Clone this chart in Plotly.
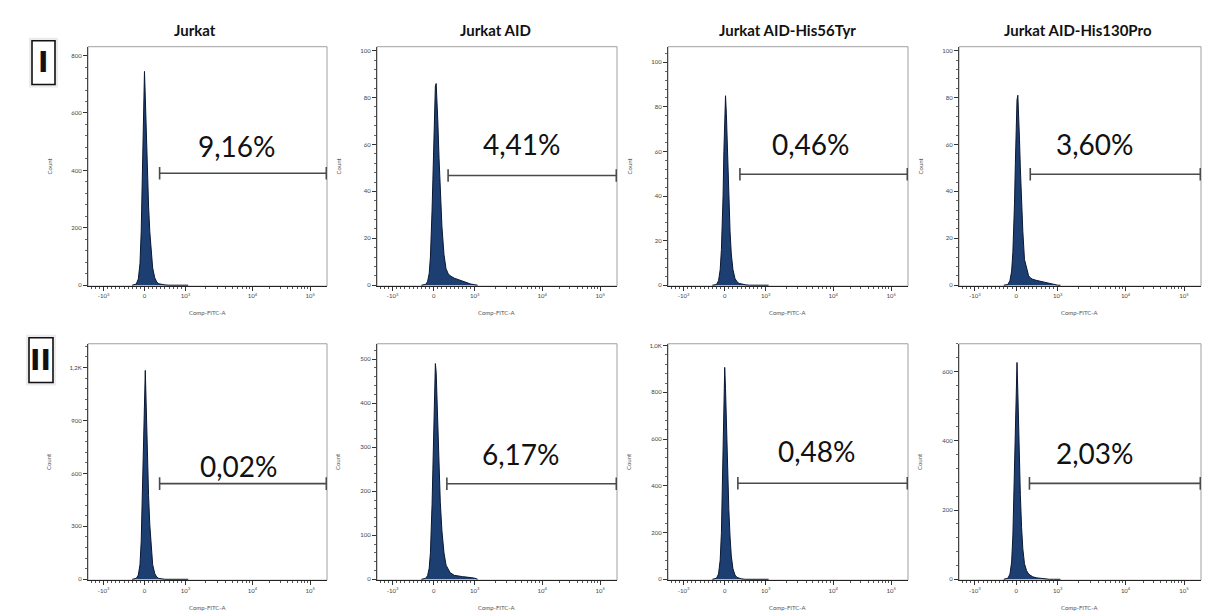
import numpy as np
import plotly.graph_objects as go

# ---------------- data ----------------
CELL_LINES = ["Jurkat", "Jurkat AID", "Jurkat AID-His56Tyr", "Jurkat AID-His130Pro"]
ROW_LABELS = ["I", "II"]

# FITC bin centres (fluorescence units)
FITC_BINS = [-300, -200, -150, -110, -80, -60, -40, -20, 0, 20, 40, 60, 80, 100, 130,
             160, 200, 250, 300, 350, 400, 500, 600, 700, 800, 900, 1000, 1100]

COUNTS_I_JURKAT = [0, 4, 22, 75, 186, 335, 484, 633, 745, 656, 536, 432, 350, 276, 186,
                   119, 60, 26, 11, 5, 3, 1, 0, 0, 0, 0, 0, 0]
COUNTS_I_AID = [0, 0.3, 1.5, 5, 12, 20, 32, 45, 62, 77, 85, 86, 80, 70, 54,
                40, 25, 13, 7, 5, 4, 3, 2.3, 1.6, 1, 0.5, 0.2, 0]
COUNTS_I_H56Y = [0, 0.3, 2, 7, 16, 26, 40, 60, 80, 85, 77, 64, 50, 38, 24,
                 14, 7, 3, 1.5, 0.8, 0.5, 0.2, 0, 0, 0, 0, 0, 0]
COUNTS_I_H130P = [0, 0.3, 2, 6, 14, 23, 35, 52, 68, 79, 81, 74, 62, 50, 35,
                  23, 11, 7, 4, 3, 2.5, 2, 1.6, 1.2, 0.8, 0.3, 0, 0]

COUNTS_II_JURKAT = [0, 5, 24, 83, 213, 391, 616, 852, 1066, 1184, 1006, 805, 628, 474, 308,
                    178, 83, 33, 12, 5, 2, 0, 0, 0, 0, 0, 0, 0]
COUNTS_II_AID = [0, 2, 8, 25, 60, 105, 170, 250, 350, 450, 490, 470, 410, 340, 250,
                 175, 110, 60, 32, 22, 15, 9, 7, 6, 5, 4, 2.5, 0]
COUNTS_II_H56Y = [0, 4, 23, 82, 200, 363, 544, 744, 907, 816, 671, 526, 408, 299, 181,
                  100, 45, 18, 8, 4, 2, 0, 0, 0, 0, 0, 0, 0]
COUNTS_II_H130P = [0, 3, 15, 50, 125, 225, 345, 490, 610, 626, 540, 430, 330, 245, 150,
                   88, 45, 25, 15, 10, 7, 4, 2, 0.5, 0, 0, 0, 0]

COUNTS = [[COUNTS_I_JURKAT, COUNTS_I_AID, COUNTS_I_H56Y, COUNTS_I_H130P],
          [COUNTS_II_JURKAT, COUNTS_II_AID, COUNTS_II_H56Y, COUNTS_II_H130P]]

PERCENT_LABELS = [["9,16%", "4,41%", "0,46%", "3,60%"],
                  ["0,02%", "6,17%", "0,48%", "2,03%"]]

GATE_LOW = [[370, 350, 370, 340], [370, 320, 320, 320]]
GATE_HIGH = 190000
GATE_COUNT = [[390, 46.8, 49.8, 47.3], [542, 217, 411, 277]]

X_TICK_VALUES = [-1000, 0, 1000, 10000, 100000]
X_TICK_TEXT = ["-10<sup>3</sup>", "0", "10<sup>3</sup>", "10<sup>4</sup>", "10<sup>5</sup>"]
X_MINOR_VALUES = ([-1300, -1200, -1100] + list(range(-900, 0, 100)) + list(range(100, 1000, 100))
                  + list(range(2000, 10000, 1000)) + list(range(20000, 100000, 10000)) + [200000])

Y_TICKS = [[[0, 200, 400, 600, 800], [0, 20, 40, 60, 80, 100], [0, 20, 40, 60, 80, 100], [0, 20, 40, 60, 80, 100]],
           [[0, 300, 600, 900, 1200], [0, 100, 200, 300, 400, 500], [0, 200, 400, 600, 800, 1000], [0, 200, 400, 600]]]
Y_TICK_TEXT = [[["0", "200", "400", "600", "800"], ["0", "20", "40", "60", "80", "100"],
                ["0", "20", "40", "60", "80", "100"], ["0", "20", "40", "60", "80", "100"]],
               [["0", "300", "600", "900", "1,2K"], ["0", "100", "200", "300", "400", "500"],
                ["0", "200", "400", "600", "800", "1,0K"], ["0", "200", "400", "600"]]]
Y_MINOR_STEP = [[40, 4, 4, 4], [60, 20, 40, 40]]
Y_MAX = [[831, 101.7, 107, 101.7], [1335, 535, 1008, 680]]

# ---------------- layout (positions / styles) ----------------
W, H = 1210, 615
PANEL_X = [(88, 327), (377, 617), (668, 908), (959, 1201)]
PANEL_Y = [(45, 286), (344, 582)]
TITLE_X = [195, 495, 787, 1078]
LABEL_POS = [[(2.27, 486), (2.15, 60.4), (2.10, 63.5), (1.90, 60.3)],
             [(2.30, 642), (2.12, 284), (2.24, 551), (1.90, 366)]]
X_RANGE = [-1.38, 4.46]

DECADE_EXP = [3, 4, 5, 6]
DECADE_POS = [1.0, 2.64, 4.05, 5.46]


def biex(v):
    """Biexponential-style display transform: linear near zero, logarithmic above 10^3."""
    v = np.asarray(v, dtype=float)
    out = v / 1000.0
    hi = v > 1000
    out[hi] = np.interp(np.log10(v[hi]), DECADE_EXP, DECADE_POS)
    return out


FONT = "Lato"
FILL = "#1d3e70"
EDGE = "#0a1733"

fig = go.Figure()
shapes = []
annotations = []
layout = {}


def paper_text(px, py, text, size, color, family=FONT, angle=0):
    return dict(x=px / W, y=1 - py / H, xref="paper", yref="paper", text=text,
                xanchor="center", yanchor="middle", showarrow=False, textangle=angle,
                font=dict(family=family, size=size, color=color))


for r in range(2):
    for c in range(4):
        idx = r * 4 + c + 1
        xa = "x" if idx == 1 else f"x{idx}"
        ya = "y" if idx == 1 else f"y{idx}"
        xl, xr = PANEL_X[c]
        yt, yb = PANEL_Y[r]

        fig.add_trace(go.Scatter(
            x=biex(FITC_BINS), y=COUNTS[r][c], mode="lines", fill="tozeroy",
            line=dict(color=EDGE, width=1), fillcolor=FILL,
            xaxis=xa, yaxis=ya, showlegend=False, hoverinfo="skip"))

        fig.add_trace(go.Scatter(
            x=biex([GATE_LOW[r][c], GATE_HIGH]), y=[GATE_COUNT[r][c]] * 2,
            mode="lines+markers",
            line=dict(color="#4a4a4a", width=1.6),
            marker=dict(symbol="line-ns", size=9, line=dict(color="#4a4a4a", width=1.6)),
            xaxis=xa, yaxis=ya, showlegend=False, hoverinfo="skip"))

        layout[f"xaxis{'' if idx == 1 else idx}"] = dict(
            domain=[xl / W, xr / W], anchor=ya, range=X_RANGE,
            tickmode="array", tickvals=biex(X_TICK_VALUES), ticktext=X_TICK_TEXT,
            ticks="outside", ticklen=4, tickwidth=1, tickcolor="#333",
            minor=dict(tickmode="array", tickvals=biex(X_MINOR_VALUES), ticks="outside",
                       ticklen=2, tickwidth=0.8, tickcolor="#555"),
            showline=True, linecolor="#222", linewidth=1.2, showgrid=False, zeroline=False,
            tickfont=dict(family=FONT, size=6, color="#444"), fixedrange=True)
        ymax = Y_MAX[r][c]
        layout[f"yaxis{'' if idx == 1 else idx}"] = dict(
            domain=[1 - yb / H, 1 - yt / H], anchor=xa, range=[-0.004 * ymax, ymax],
            tickmode="array", tickvals=Y_TICKS[r][c], ticktext=Y_TICK_TEXT[r][c],
            ticks="outside", ticklen=4, tickwidth=1, tickcolor="#333",
            minor=dict(dtick=Y_MINOR_STEP[r][c], tick0=0, ticks="outside",
                       ticklen=2, tickwidth=0.8, tickcolor="#666"),
            showline=True, linecolor="#444", linewidth=1, showgrid=False, zeroline=False,
            tickfont=dict(family=FONT, size=6, color="#444"), fixedrange=True)

        # panel frame
        shapes.append(dict(type="rect", xref=f"{xa} domain", yref=f"{ya} domain",
                           x0=0, x1=1, y0=0, y1=1, line=dict(color="#a0a0a0", width=1),
                           layer="below"))

        lx, ly = LABEL_POS[r][c]
        annotations.append(dict(x=lx, y=ly, xref=xa, yref=ya, text=PERCENT_LABELS[r][c],
                                xanchor="center", yanchor="middle", showarrow=False,
                                font=dict(family=FONT, size=28, color="#111")))
        annotations.append(paper_text(xl - 39, (yt + yb) / 2, "Count", 6, "#555", angle=-90))
        annotations.append(paper_text((xl + xr) / 2, yb + 27, "Comp-FITC-A", 6, "#555"))

for c in range(4):
    annotations.append(paper_text(TITLE_X[c], 28, f"<b>{CELL_LINES[c]}</b>", 15, "#111"))

ROW_BOX = [(32, 55, 39, 83), (29, 53, 338, 383)]
for r in range(2):
    x0, x1, y0, y1 = ROW_BOX[r]
    shapes.append(dict(type="rect", xref="paper", yref="paper",
                       x0=(x0 - 3) / W, x1=(x1 + 3) / W, y0=1 - (y1 + 3) / H, y1=1 - (y0 - 3) / H,
                       line=dict(width=0), fillcolor="rgba(0,0,0,0.08)", layer="below"))
    shapes.append(dict(type="rect", xref="paper", yref="paper",
                       x0=x0 / W, x1=x1 / W, y0=1 - y1 / H, y1=1 - y0 / H,
                       line=dict(color="#111", width=1.6), fillcolor="white", layer="below"))
    annotations.append(paper_text((x0 + x1) / 2, (y0 + y1) / 2, f"<b>{ROW_LABELS[r]}</b>",
                                  28, "#111", family="DejaVu Sans"))

fig.update_layout(width=W, height=H, margin=dict(l=0, r=0, t=0, b=0),
                  paper_bgcolor="white", plot_bgcolor="white",
                  shapes=shapes, annotations=annotations, **layout)

fig.write_html("out.html", config={"displayModeBar": False},
               post_script="document.body.style.margin='0px';")
